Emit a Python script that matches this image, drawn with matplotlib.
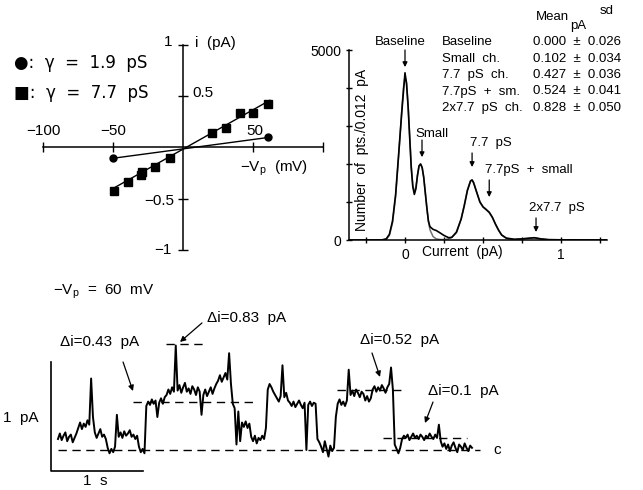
import numpy as np
import matplotlib
matplotlib.use("Agg")
from matplotlib import pyplot as plt

plt.rcParams['font.family'] = ['Liberation Sans', 'DejaVu Sans']
plt.rcParams['mathtext.fontset'] = 'custom'
plt.rcParams['mathtext.rm'] = 'Liberation Sans'
plt.rcParams['mathtext.it'] = 'Liberation Sans'

W, H = 643, 490

# --- I/V relation (mV, pA)
iv_circ_v = [-50, 61]
iv_circ_i = [-0.105, 0.098]
iv_sq_v = [-49, -39, -30, -29, -20, -9, 21, 31, 41, 50, 61]
iv_sq_i = [-0.42, -0.34, -0.27, -0.24, -0.19, -0.10, 0.14, 0.19, 0.34, 0.34, 0.42]
iv_fit_v = [-50, 62]
iv_fit_i = [-0.40, 0.46]

# --- amplitude histogram (pA, counts)
hist_x = [-0.36, -0.15, -0.12, -0.10, -0.08, -0.06, -0.04, -0.02, -0.01, 0.00,
          0.01, 0.02, 0.03, 0.04, 0.05, 0.06, 0.07, 0.08, 0.09, 0.10,
          0.11, 0.12, 0.13, 0.14, 0.15, 0.16, 0.18, 0.20, 0.22, 0.25,
          0.28, 0.30, 0.33, 0.36, 0.38, 0.40, 0.42, 0.43, 0.44, 0.46,
          0.48, 0.50, 0.52, 0.54, 0.56, 0.58, 0.60, 0.62, 0.65, 0.70,
          0.75, 0.80, 0.83, 0.87, 0.92, 1.00, 1.30]
hist_data = [0, 0, 30, 150, 500, 1200, 2300, 3400, 3900, 4400,
             4100, 3500, 2700, 1900, 1400, 1200, 1350, 1700, 1950, 2000,
             1900, 1650, 1250, 850, 500, 350, 280, 250, 200, 120,
             60, 70, 200, 550, 900, 1300, 1550, 1580, 1500, 1250,
             1000, 870, 800, 730, 600, 420, 260, 130, 50, 20,
             30, 50, 60, 30, 10, 5, 0]
hist_fit = [0, 0, 20, 120, 450, 1150, 2250, 3450, 4000, 4300,
            4150, 3550, 2750, 1950, 1450, 1250, 1400, 1700, 1950, 2000,
            1920, 1650, 1250, 850, 500, 270, 90, 30, 15, 10,
            30, 70, 220, 560, 920, 1320, 1560, 1580, 1520, 1260,
            1010, 880, 810, 720, 590, 410, 250, 130, 40, 10,
            25, 45, 55, 30, 8, 0, 0]

table_names = ["Baseline", "Small  ch.", "7.7  pS  ch.", "7.7pS  +  sm.", "2x7.7  pS  ch."]
table_means = [0.000, 0.102, 0.427, 0.524, 0.828]
table_sds = [0.026, 0.034, 0.036, 0.041, 0.050]

# peak labels: text, text x/y, arrow x, arrow y0 -> y1
peak_labels = ["Baseline", "Small", "7.7  pS", "7.7pS  +  small", "2x7.7  pS"]
peak_text_x = [-0.03, 0.17, 0.55, 0.513, 0.975]
peak_text_y = [5210, 2790, 2550, 1840, 840]
peak_arrow_x = [0.0, 0.109, 0.43, 0.54, 0.84]
peak_arrow_y0 = [5000, 2630, 2290, 1580, 580]
peak_arrow_y1 = [4550, 2180, 1920, 1130, 210]

# --- current trace at -Vp = 60 mV, sampled every 20 ms (pA)
trace_dt = 0.02
trace_i = [
    0.10, 0.15, 0.09, 0.13, 0.16, 0.08, 0.12, 0.14, 0.07, 0.11, 0.15,
    0.20, 0.25, 0.19, 0.24, 0.21, 0.27, 0.23, 0.65, 0.30,
    0.16, 0.11, 0.15, 0.19, 0.12, 0.14, 0.10,
    0.02, -0.03, 0.01, -0.02, 0.03, 0.32,
    0.12, 0.16, 0.11, 0.17, 0.13, 0.15, 0.18, 0.12, 0.14, 0.10, 0.13,
    0.03, -0.02, 0.01, -0.03,
    0.40, 0.44, 0.41, 0.46, 0.42, 0.45, 0.30, 0.43, 0.47, 0.42, 0.48,
    0.50, 0.55, 0.51, 0.57, 0.53, 0.95,
    0.54, 0.59, 0.52, 0.57, 0.61, 0.53, 0.56, 0.51, 0.58, 0.55, 0.50, 0.57, 0.53,
    0.32, 0.50, 0.55, 0.49, 0.53, 0.57, 0.51, 0.56, 0.60,
    0.63, 0.68, 0.62, 0.66, 0.70, 0.64, 0.88, 0.60,
    0.42, 0.38, 0.05, 0.35, 0.08,
    0.25, 0.21, 0.26, 0.20, 0.24,
    0.12, 0.08, 0.13, 0.06, 0.11, 0.09, 0.13, 0.10, 0.20,
    0.55, 0.60, 0.57, 0.53, 0.50,
    0.47, 0.44, 0.49, 0.77, 0.48, 0.52, 0.45,
    0.43, 0.40, 0.44, 0.39, 0.42, 0.45, 0.41, 0.38, 0.43, 0.00,
    0.41, 0.44, 0.40, 0.43, 0.42,
    0.10, 0.07, 0.03, -0.02, 0.08, 0.01, -0.06, 0.04, -0.01, 0.02,
    0.30, 0.42, 0.46, 0.41, 0.44, 0.40, 0.45, 0.73,
    0.50, 0.54, 0.49, 0.55, 0.52, 0.48, 0.53, 0.51,
    0.45, 0.49, 0.44, 0.47,
    0.55, 0.58, 0.53, 0.57, 0.54, 0.59, 0.56, 0.52, 0.57, 0.60, 0.75, 0.55,
    0.05, 0.01, -0.03, 0.02,
    0.10, 0.13, 0.11, 0.14, 0.09, 0.12, 0.15, 0.11, 0.13, 0.10,
    0.14, 0.12, 0.09, 0.13, 0.11, 0.15, 0.12, 0.10, 0.14, 0.11, 0.23,
    0.08, 0.03, 0.06, 0.01, 0.05, -0.01, 0.04, 0.07, 0.02, -0.02,
    0.05, 0.03, 0.00, 0.06, 0.02, -0.01, 0.04, 0.02,
]
trace_t = np.arange(len(trace_i)) * trace_dt

# dashed reference levels: level (pA), from t0 to t1 (s)
level_i = [0.0, 0.436, 0.964, 0.545, 0.109]
level_t0 = [0.0, 0.815, 1.174, 3.033, 3.533]
level_t1 = [4.587, 2.163, 1.576, 3.75, 4.446]

delta_labels = ["Δi=0.43  pA", "Δi=0.83  pA", "Δi=0.52  pA", "Δi=0.1  pA"]
delta_text_t = [0.457, 2.054, 3.717, 4.402]
delta_text_i = [0.982, 1.20, 1.0, 0.536]
delta_arrow_from = [(0.707, 0.80), (1.565, 1.155), (3.413, 0.882), (4.076, 0.436)]
delta_arrow_to = [(0.815, 0.536), (1.326, 0.982), (3.50, 0.664), (3.989, 0.245)]


def at(x, y):
    # pixel position in the 643x490 canvas -> figure fraction
    return x / W, 1 - y / H


fig = plt.figure(figsize=(W / 100, H / 100), dpi=100)

# %% I/V panel
ax = fig.add_axes([43 / W, 1 - 250 / H, 280 / W, 205 / H])
ax.set_xlim(-100, 100)
ax.set_ylim(-1, 1)
for s in ['top', 'right']:
    ax.spines[s].set_visible(False)
for s in ['left', 'bottom']:
    ax.spines[s].set_position(('data', 0))
    ax.spines[s].set_linewidth(1.1)
ax.set_xticks([-100, -50, 50, 100])
ax.set_yticks([-1, -0.5, 0.5, 1])
ax.set_xticklabels([])
ax.set_yticklabels([])
ax.tick_params(direction='inout', length=7, width=1.0)
ax.patch.set_alpha(0)

ax.plot(iv_circ_v, iv_circ_i, '-', color='k', lw=1.0)
ax.plot(iv_circ_v, iv_circ_i, 'o', color='k', ms=5)
ax.plot(iv_fit_v, iv_fit_i, '-', color='k', lw=1.0)
ax.plot(iv_sq_v, iv_sq_i, 's', color='k', ms=5.5)

fs = 11
fig.text(*at(43, 131), "−100", ha='center', va='center', fontsize=fs)
fig.text(*at(113, 131), "−50", ha='center', va='center', fontsize=fs)
fig.text(*at(255, 131), "50", ha='center', va='center', fontsize=fs)
fig.text(*at(192, 93), "0.5", ha='left', va='center', fontsize=fs)
fig.text(*at(174, 201), "−0.5", ha='right', va='center', fontsize=fs)
fig.text(*at(172, 42), "1", ha='right', va='center', fontsize=fs)
fig.text(*at(172, 250), "−1", ha='right', va='center', fontsize=fs)
fig.text(*at(195, 43), "i  (pA)", ha='left', va='center', fontsize=fs)
fig.text(*at(240, 168), r"$\mathregular{-V_p}$  (mV)", ha='left', va='center', fontsize=fs)
fig.text(*at(14, 63), "●:  γ  =  1.9  pS", ha='left', va='center', fontsize=12,
         family=['DejaVu Sans'])
fig.text(*at(14, 93), "■:  γ  =  7.7  pS", ha='left', va='center', fontsize=12,
         family=['DejaVu Sans'])

# %% histogram panel
ah = fig.add_axes([349 / W, 1 - 240 / H, 258 / W, 190 / H])
ah.set_xlim(-0.359, 1.295)
ah.set_ylim(0, 5000)
for s in ['top', 'right']:
    ah.spines[s].set_visible(False)
for s in ['left', 'bottom']:
    ah.spines[s].set_linewidth(1.1)
ah.plot(hist_x, hist_fit, color='0.45', lw=1.1)
ah.plot(hist_x, hist_data, color='k', lw=1.2)
ah.set_yticks(np.arange(0, 5001, 1000))
ah.set_yticklabels(['0', '', '', '', '', '5000'])
ah.set_xticks([-0.25, 0, 0.25, 0.5, 0.75, 1.0, 1.25])
ah.set_xticklabels(['', '0', '', '', '', '1', ''])
ah.tick_params(direction='inout', length=5, width=1.0, labelsize=10, pad=3)
ah.patch.set_alpha(0)
ah.text(0.37, -140, "Current  (pA)", ha='center', va='top', fontsize=10)
ah.text(-0.276, 2370, "Number  of  pts./0.012  pA", rotation=90,
        ha='center', va='center', fontsize=10)

for lab, tx, ty, axx, y0, y1 in zip(peak_labels, peak_text_x, peak_text_y,
                                   peak_arrow_x, peak_arrow_y0, peak_arrow_y1):
    ha = 'left' if lab.startswith("7.7pS") else 'center'
    ah.text(tx, ty, lab, ha=ha, va='center', fontsize=9.5, clip_on=False)
    ah.annotate('', xy=(axx, y1), xytext=(axx, y0), annotation_clip=False,
                arrowprops=dict(arrowstyle='-|>', lw=0.9, color='k',
                                mutation_scale=7, shrinkA=0, shrinkB=0))

# table of means
fig.text(*at(536, 17), "Mean", ha='left', va='center', fontsize=9.5)
fig.text(*at(570, 26), "pA", ha='left', va='center', fontsize=9.5)
fig.text(*at(600, 11), "sd", ha='left', va='center', fontsize=9.5)
for k, (name, m, sd) in enumerate(zip(table_names, table_means, table_sds)):
    y = 42 + k * 16.5
    fig.text(*at(442, y), name, ha='left', va='center', fontsize=9.5)
    fig.text(*at(533, y), f"{m:.3f}  ±  {sd:.3f}", ha='left', va='center', fontsize=9.5)

# %% trace panel
at_ = fig.add_axes([0, 0, 1, 220 / H])
at_.set_xlim(-58 / 92, 585 / 92)
at_.set_ylim(-40 / 110, 180 / 110)
at_.axis('off')
at_.plot(trace_t, trace_i, color='k', lw=1.4)
for li, t0, t1 in zip(level_i, level_t0, level_t1):
    at_.plot([t0, t1], [li, li], color='k', lw=1.0, ls=(0, (6, 4)))

# scale bars: 1 pA and 1 s
at_.plot([-0.076, -0.076, 0.924], [0.8, -0.19, -0.19], color='k', lw=1.2)
at_.text(-0.40, 0.29, "1  pA", ha='center', va='center', fontsize=11)
at_.text(0.40, -0.28, "1  s", ha='center', va='center', fontsize=11)
at_.text(4.772, 0.0, "c", ha='center', va='center', fontsize=11)
at_.text(0.50, 1.44, r"$\mathregular{-V_p}$  =  60  mV", ha='center', va='center', fontsize=11)

for lab, tx, ty, p0, p1 in zip(delta_labels, delta_text_t, delta_text_i,
                               delta_arrow_from, delta_arrow_to):
    at_.text(tx, ty, lab, ha='center', va='center', fontsize=11)
    at_.annotate('', xy=p1, xytext=p0,
                 arrowprops=dict(arrowstyle='-|>', lw=0.9, color='k',
                                 mutation_scale=8, shrinkA=0, shrinkB=0))

fig.savefig("out.png", dpi=100)
